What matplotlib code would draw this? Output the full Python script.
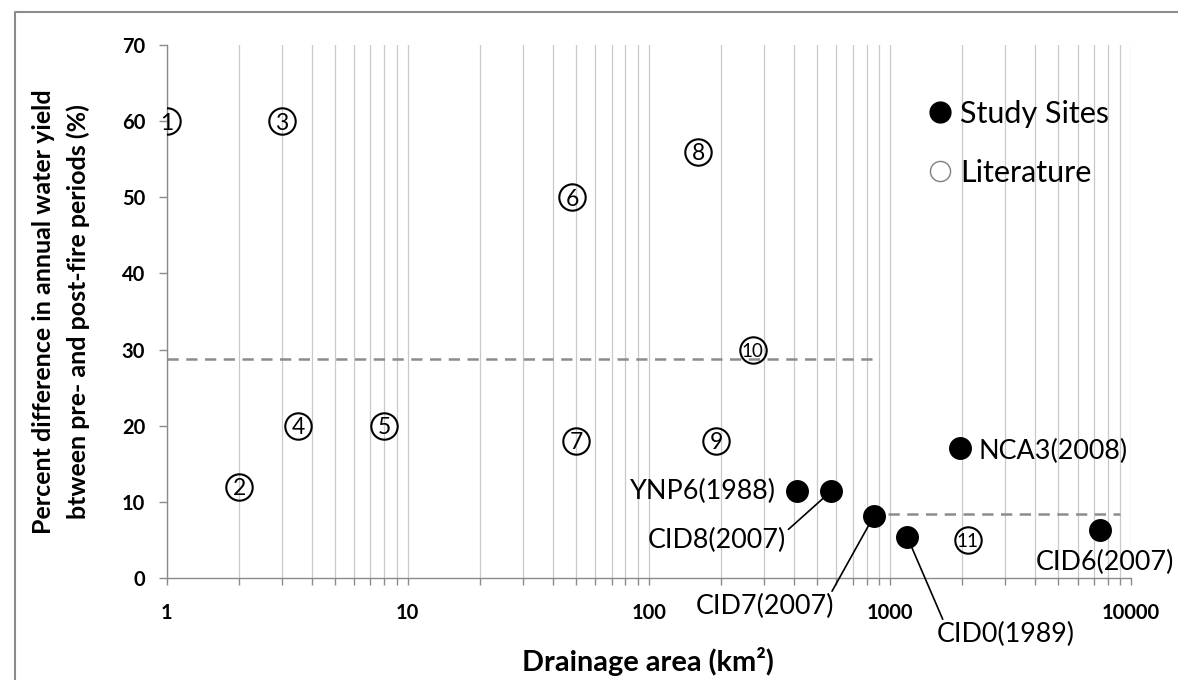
import matplotlib
matplotlib.use("Agg")
import matplotlib.pyplot as plt
from matplotlib.lines import Line2D
from matplotlib.ticker import LogLocator, FixedLocator, FixedFormatter, NullFormatter

# ---------------- data ----------------
lit_labels = ["1", "2", "3", "4", "5", "6", "7", "8", "9", "10", "11"]
lit_area = [1, 2, 3, 3.5, 8, 48, 50, 160, 190, 270, 2100]
lit_diff = [60, 12, 60, 20, 20, 50, 18, 56, 18, 30, 5]

site_names = ["YNP6(1988)", "CID8(2007)", "CID7(2007)", "CID0(1989)", "NCA3(2008)", "CID6(2007)"]
site_area = [410, 570, 860, 1180, 1960, 7450]
site_diff = [11.4, 11.4, 8.2, 5.4, 17.1, 6.3]

lit_mean_x = [1, 900]
lit_mean_y = [28.8, 28.8]
site_mean_x = [980, 9000]
site_mean_y = [8.4, 8.4]

x_ticks = [1, 10, 100, 1000, 10000]
x_ticklabels = ["1", "10", "100", "1000", "10000"]
y_ticks = [0, 10, 20, 30, 40, 50, 60, 70]

legend_labels = ["Study Sites", "Literature"]
x_title = "Drainage area (km²)"
y_title_lines = ["Percent difference in annual water yield",
                 "btween pre- and post-fire periods (%)"]

# ---------------- figure ----------------
W, H = 1178, 680
fig = plt.figure(figsize=(W / 100, H / 100), dpi=100)
plt.rcParams["font.family"] = ["Lato", "DejaVu Sans"]

L, R, T, B = 166.7, 1131, 45, 578
ax = fig.add_axes([L / W, 1 - B / H, (R - L) / W, (B - T) / H])

ax.set_xscale("log")
ax.set_xlim(1, 10000)
ax.set_ylim(0, 70)

gray = "#8a8a8a"
for s in ["top", "right"]:
    ax.spines[s].set_visible(False)
for s in ["left", "bottom"]:
    ax.spines[s].set_color(gray)
    ax.spines[s].set_linewidth(1.0)

ax.xaxis.set_major_locator(FixedLocator(x_ticks))
ax.xaxis.set_major_formatter(FixedFormatter(x_ticklabels))
ax.xaxis.set_minor_locator(LogLocator(base=10, subs=range(2, 10)))
ax.xaxis.set_minor_formatter(NullFormatter())
ax.yaxis.set_major_locator(FixedLocator(y_ticks))

ax.tick_params(axis="x", which="both", direction="out", length=5, width=1,
               color=gray, pad=13)
ax.tick_params(axis="y", which="major", direction="out", length=5.5, width=1,
               color=gray, pad=10)
ax.tick_params(axis="y", which="minor", left=False)
for lab in ax.get_xticklabels() + ax.get_yticklabels():
    lab.set_fontweight("bold")
    lab.set_fontsize(14.5)

ax.grid(True, which="both", axis="x", color="#c9c9c9", linewidth=0.9)
ax.grid(False, axis="y")
ax.set_axisbelow(True)

# mean lines
ax.plot(lit_mean_x, lit_mean_y, color="#8c8c8c", lw=1.8, dashes=(4.5, 3), zorder=2)
ax.plot(site_mean_x, site_mean_y, color="#8c8c8c", lw=1.8, dashes=(4.5, 3), zorder=2)

# literature: circled numbers
ax.plot(lit_area, lit_diff, ls="", marker="o", ms=19, mfc="none", mec="black",
        mew=1.5, zorder=4)
for lab, x, y in zip(lit_labels, lit_area, lit_diff):
    ax.text(x, y, lab, ha="center", va="center_baseline",
            fontsize=16.5 if len(lab) == 1 else 13.5,
            color="black", zorder=5)

# study sites
ax.plot(site_area, site_diff, ls="", marker="o", ms=15.5, mfc="black", mec="black",
        zorder=4)

# labels (offsets in points)
lab_fs = 19.4
spec = {
    "YNP6(1988)": dict(off=(-14.6, 0), ha="right", rel=None),
    "NCA3(2008)": dict(off=(12.8, -2.9), ha="left", rel=None),
    "CID8(2007)": dict(off=(-32.7, -35.6), ha="right", rel=(1.0, 0.85)),
    "CID7(2007)": dict(off=(-78.3, -65.5), ha="center", rel=(0.97, 1.0)),
    "CID0(1989)": dict(off=(71.1, -70.3), ha="center", rel=(0.05, 1.0)),
    "CID6(2007)": dict(off=(3.3, -23.3), ha="center", rel=None),
}
for name, x, y in zip(site_names, site_area, site_diff):
    sp = spec[name]
    kw = {}
    if sp["rel"] is not None:
        kw["arrowprops"] = dict(arrowstyle="-", color="black", lw=1.2,
                                relpos=sp["rel"], shrinkA=0, shrinkB=0)
    ax.annotate(name, xy=(x, y), xytext=sp["off"], textcoords="offset points",
                ha=sp["ha"], va="center", fontsize=lab_fs, color="black", zorder=3, **kw)

# legend
handles = [
    Line2D([], [], ls="", marker="o", ms=15, mfc="black", mec="black"),
    Line2D([], [], ls="", marker="o", ms=14.5, mfc="white", mec="#7f7f7f", mew=1.0),
]
leg = ax.legend(handles, legend_labels, loc="upper left",
                bbox_to_anchor=(929 / W, 1 - 100 / H), bbox_transform=fig.transFigure,
                frameon=False, fontsize=22, handlelength=0.75, handletextpad=0.28,
                labelspacing=1.0, borderpad=0, borderaxespad=0)

# axis titles
fig.text(647.5 / W, 1 - 671 / H, x_title, ha="center", va="baseline",
         fontsize=20.8, fontweight="bold")
fig.text(51 / W, 1 - 312 / H, y_title_lines[0], rotation=90, ha="center",
         va="baseline", fontsize=18, fontweight="bold", rotation_mode="anchor")
fig.text(86 / W, 1 - 312 / H, y_title_lines[1], rotation=90, ha="center",
         va="baseline", fontsize=18, fontweight="bold", rotation_mode="anchor")

# outer frame (top and left visible)
fig.add_artist(Line2D([15 / W, 15 / W, 1], [0, 1 - 11.7 / H, 1 - 11.7 / H],
                      transform=fig.transFigure, color="#8c8c8c", lw=1.5))

fig.savefig("out.png", dpi=100)
